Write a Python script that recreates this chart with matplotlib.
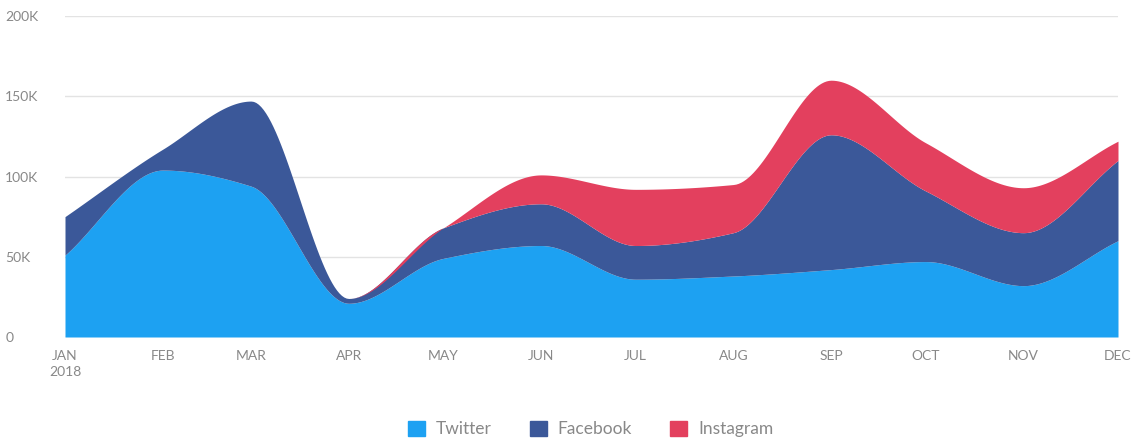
import datetime as dt

import matplotlib.pyplot as plt
import matplotlib.dates as mdates
import numpy as np
from matplotlib.patches import Patch

plt.rcParams['font.family'] = ['Lato', 'DejaVu Sans']

months = ["JAN", "FEB", "MAR", "APR", "MAY", "JUN",
          "JUL", "AUG", "SEP", "OCT", "NOV", "DEC"]
twitter = [51, 104, 94, 21, 49, 57, 36, 38, 42, 47, 32, 60]
facebook = [24, 13, 53, 3, 19, 26, 21, 27, 84, 44, 33, 50]
instagram = [0, 0, 0, 0, 0, 18, 35, 30, 34, 30, 28, 12]
series_names = ["Twitter", "Facebook", "Instagram"]
colors = ["#1da1f2", "#3b5899", "#e3405e"]


def monotone_curve(x, y, n=40):
    """Fritsch-Carlson monotone cubic, like d3.curveMonotoneX."""
    x = np.asarray(x, float)
    y = np.asarray(y, float)
    h = np.diff(x)
    d = np.diff(y) / h
    m = np.zeros_like(y)
    m[0], m[-1] = d[0], d[-1]
    for i in range(1, len(y) - 1):
        if d[i - 1] * d[i] <= 0:
            m[i] = 0
        else:
            w1 = 2 * h[i] + h[i - 1]
            w2 = h[i] + 2 * h[i - 1]
            m[i] = (w1 + w2) / (w1 / d[i - 1] + w2 / d[i])
    xs, ys = [], []
    for i in range(len(h)):
        t = np.linspace(0, 1, n, endpoint=False)
        h00 = 2 * t**3 - 3 * t**2 + 1
        h10 = t**3 - 2 * t**2 + t
        h01 = -2 * t**3 + 3 * t**2
        h11 = t**3 - t**2
        xs.append(x[i] + t * h[i])
        ys.append(h00 * y[i] + h10 * h[i] * m[i] + h01 * y[i + 1] + h11 * h[i] * m[i + 1])
    xs.append([x[-1]])
    ys.append([y[-1]])
    return np.concatenate(xs), np.concatenate(ys)


dates = [dt.date(2018, i + 1, 1) for i in range(12)]
xnum = mdates.date2num(dates)

fig = plt.figure(figsize=(11.4, 4.42), dpi=100)
ax = fig.add_axes([65 / 1140, 105 / 442, 1053 / 1140, 321 / 442])

stack = np.vstack([twitter, facebook, instagram]) * 1000.0
cum = np.cumsum(stack, axis=0)
lower = np.zeros(len(xnum))
for k in range(3):
    xs, top = monotone_curve(xnum, cum[k])
    _, bot = monotone_curve(xnum, lower)
    ax.fill_between(xs, bot, top, color=colors[k], linewidth=0, zorder=2)
    lower = cum[k]

ax.set_xlim(xnum[0], xnum[-1])
ax.set_ylim(0, 200000)
ax.set_yticks([0, 50000, 100000, 150000, 200000])
ax.set_yticklabels(["0", "50K", "100K", "150K", "200K"])
ax.set_xticks(xnum)
ax.set_xticklabels(["JAN\n2018"] + months[1:])
ax.grid(axis='y', color='#e3e3e3', linewidth=1, zorder=0)
ax.grid(axis='x', visible=False)
for s in ax.spines.values():
    s.set_visible(False)
ax.tick_params(axis='both', length=0, colors='#888888', labelsize=10)
ax.tick_params(axis='x', pad=9)
ax.tick_params(axis='y', pad=43)
for lab in ax.get_yticklabels():
    lab.set_ha('left')
for lab in ax.get_xticklabels():
    lab.set_linespacing(1.45)

handles = [Patch(facecolor=c, edgecolor=c, label=n) for c, n in zip(colors, series_names)]
leg = fig.legend(handles=handles, loc='lower center', bbox_to_anchor=(0.518, -0.025),
                 ncol=3, frameon=False, fontsize=12.5, handlelength=1.0,
                 handleheight=1.0, handletextpad=0.6, columnspacing=2.2)
for t in leg.get_texts():
    t.set_color('#888888')

fig.savefig("out.png", dpi=100)
